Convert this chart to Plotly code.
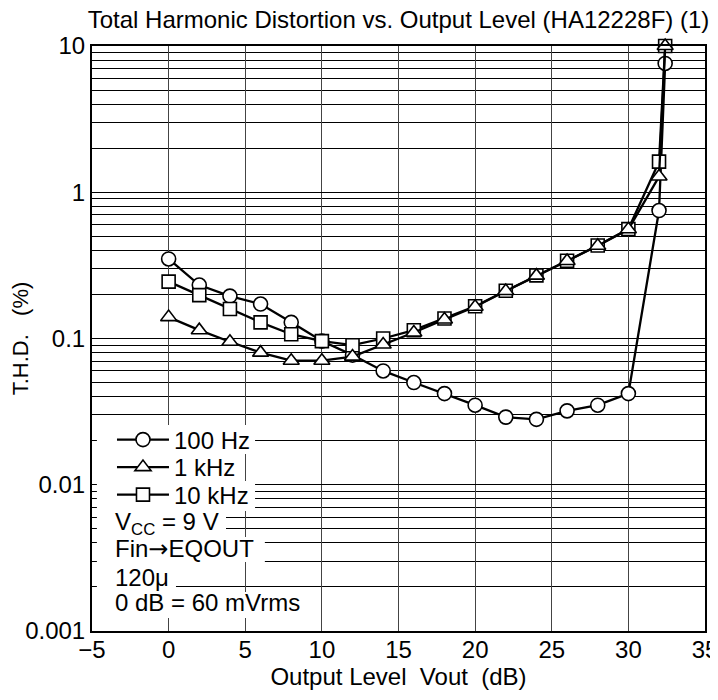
import plotly.graph_objects as go

# Data
x_vals = [0, 2, 4, 6, 8, 10, 12, 14, 16, 18, 20, 22, 24, 26, 28, 30, 32, 32.4]
thd_100hz = [0.35, 0.232, 0.195, 0.172, 0.129, 0.096, 0.077, 0.060, 0.050, 0.042,
             0.035, 0.029, 0.028, 0.032, 0.035, 0.042, 0.75, 7.6]
thd_1khz = [0.140, 0.114, 0.095, 0.080, 0.0705, 0.0705, 0.0752, 0.091, 0.110, 0.135,
            0.165, 0.211, 0.269, 0.339, 0.431, 0.558, 1.28, 10.0]
thd_10khz = [0.245, 0.198, 0.159, 0.129, 0.107, 0.096, 0.090, 0.100, 0.114, 0.137,
             0.166, 0.212, 0.270, 0.340, 0.432, 0.560, 1.62, 10.0]
series_names = ["100 Hz", "1 kHz", "10 kHz"]
x_ticks = [-5, 0, 5, 10, 15, 20, 25, 30, 35]
y_ticks = [0.001, 0.01, 0.1, 1, 10]
y_tick_labels = ["0.001", "0.01", "0.1", "1", "10"]
notes = ["V<sub>CC</sub> = 9 V",
         'Fin<span style="font-family:DejaVu Sans">→</span>EQOUT',
         "120μ", "0 dB = 60 mVrms"]

FONT = "Liberation Sans, Arial, sans-serif"
FS = 24

# page has an 8px body margin: work in figure coordinates = page - 8
W, H = 710, 685

fig = go.Figure()

def add_series(y, name, symbol, size, legend):
    fig.add_trace(go.Scatter(
        x=x_vals, y=y, name=name, mode="lines+markers", legend=legend,
        cliponaxis=False,
        line=dict(color="black", width=2.3),
        marker=dict(symbol=symbol, size=size, color="white",
                    line=dict(color="black", width=1.6)),
    ))

add_series(thd_100hz, series_names[0], "circle", 14, "legend")
add_series(thd_10khz, series_names[2], "square", 13, "legend3")
add_series(thd_1khz, series_names[1], "triangle-up", 14, "legend2")

legend_common = dict(xanchor="left", yanchor="middle", bgcolor="rgba(0,0,0,0)",
                     font=dict(family=FONT, size=FS, color="black"),
                     borderwidth=0, itemwidth=52)
leg_x = 0.0326
fig.update_layout(
    legend=dict(x=leg_x, y=0.3265, **legend_common),
    legend2=dict(x=leg_x, y=0.2795, **legend_common),
    legend3=dict(x=leg_x, y=0.2325, **legend_common),
)

# white backing boxes behind the legend rows and the note rows
boxes = [
    (0.266, 0.3026, 0.3521),   # 100 Hz
    (0.241, 0.2556, 0.3034),   # 1 kHz
    (0.266, 0.2051, 0.2564),   # 10 kHz
    (0.2186, 0.1607, 0.2051),  # Vcc
    (0.282, 0.1179, 0.1607),   # Fin->EQOUT
    (0.137, 0.0667, 0.1179),   # 120u
    (0.344, 0.0222, 0.0667),   # 0 dB
]
for (x1, y0, y1) in boxes:
    fig.add_shape(type="rect", xref="paper", yref="paper", x0=0.008, x1=x1, y0=y0, y1=y1,
                  fillcolor="white", line=dict(width=0), layer="above")

note_y = [0.184, 0.1405, 0.0923, 0.0479]
for txt, yy in zip(notes, note_y):
    fig.add_annotation(text=txt, x=0.035, y=yy, xref="paper", yref="paper",
                       xanchor="left", yanchor="middle", showarrow=False,
                       font=dict(family=FONT, size=FS, color="black"))

fig.update_layout(
    width=W, height=H,
    margin=dict(l=84, r=13, t=38, b=H - 623, autoexpand=False),
    paper_bgcolor="white", plot_bgcolor="white",
    font=dict(family=FONT, size=FS, color="black"),
    showlegend=True,
    title=dict(text="Total Harmonic Distortion vs. Output Level (HA12228F) (1)",
               x=0.5, xref="paper", xanchor="center",
               y=1 - 12 / H, yanchor="middle",
               font=dict(family=FONT, size=FS, color="black")),
    xaxis=dict(range=[-5, 35], tickvals=x_ticks, ticks="", automargin=False,
               tickfont=dict(size=FS), ticklabeloverflow="allow",
               ticklabelstandoff=-4,
               showgrid=True, gridcolor="#444", gridwidth=1,
               showline=True, linecolor="black", linewidth=2, mirror=True,
               zeroline=False,
               title=dict(text="Output Level  Vout  (dB)", standoff=4,
                          font=dict(family=FONT, size=FS))),
    yaxis=dict(type="log", range=[-3, 1], tickvals=y_ticks, ticktext=y_tick_labels,
               ticks="", automargin=False, tickfont=dict(size=FS),
               showgrid=True, gridcolor="black", gridwidth=1,
               minor=dict(dtick="D1", showgrid=True, gridcolor="black", gridwidth=1, ticks=""),
               showline=True, linecolor="black", linewidth=2, mirror=True,
               zeroline=False,
               title=dict(text="T.H.D.   (%)", standoff=18,
                          font=dict(family=FONT, size=22))),
)

fig.write_html("out.html")
